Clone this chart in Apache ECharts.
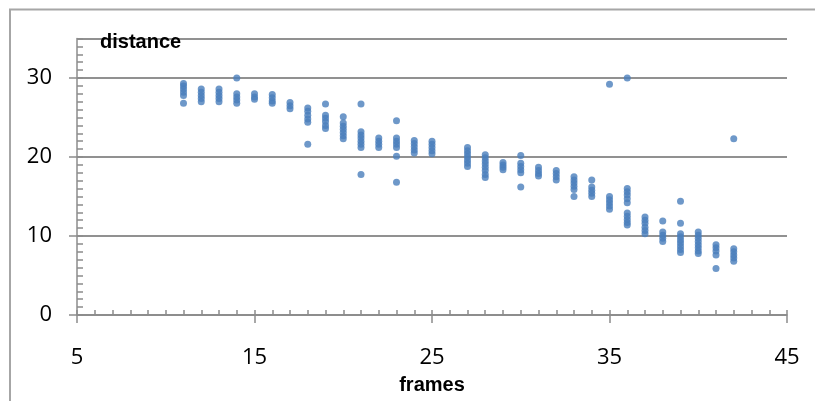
<!DOCTYPE html>
<html>
<head>
<meta charset="utf-8">
<script src="https://cdn.jsdelivr.net/npm/echarts@6/dist/echarts.min.js"></script>
<style>html,body{margin:0;padding:0;background:#fff}#c{width:815px;height:401px}</style>
</head>
<body>
<div id="c"></div>
<script>
const frames = [11,12,13,14,15,16,17,18,19,20,21,22,23,24,25,27,28,29,30,31,32,33,34,35,36,37,38,39,40,41,42];
const distances = [
  [29.3, 29.0, 28.6, 28.2, 27.8, 26.8],
  [28.6, 28.2, 27.8, 27.4, 27.0],
  [28.6, 28.2, 27.8, 27.4, 27.0],
  [30.0, 28.0, 27.6, 27.2, 26.8],
  [28.0, 27.6, 27.3],
  [27.9, 27.5, 27.1, 26.8],
  [26.9, 26.5, 26.1],
  [26.2, 25.8, 25.3, 24.8, 24.4, 21.6],
  [26.7, 25.3, 24.9, 24.5, 24.0, 23.6],
  [25.1, 24.3, 23.9, 23.5, 23.1, 22.7, 22.3],
  [26.7, 23.2, 22.8, 22.4, 22.0, 21.6, 21.2, 17.8],
  [22.4, 22.0, 21.6, 21.2],
  [24.6, 22.4, 22.0, 21.6, 21.2, 20.1, 16.8],
  [22.1, 21.7, 21.3, 20.9, 20.5],
  [22.0, 21.6, 21.2, 20.8, 20.4],
  [21.2, 20.8, 20.4, 20.0, 19.6, 19.2, 18.8],
  [20.3, 19.9, 19.5, 19.1, 18.7, 18.3, 17.8, 17.4],
  [19.3, 19.0, 18.7, 18.4],
  [20.2, 19.2, 18.8, 18.4, 18.0, 16.2],
  [18.7, 18.3, 17.9, 17.6],
  [18.3, 17.9, 17.5, 17.1],
  [17.5, 17.1, 16.7, 16.3, 15.9, 15.0],
  [17.1, 16.2, 15.8, 15.4, 15.0],
  [29.2, 15.0, 14.6, 14.2, 13.8, 13.4],
  [30.0, 16.0, 15.6, 15.2, 14.7, 14.2, 12.9, 12.5, 12.1, 11.7, 11.4],
  [12.4, 12.0, 11.6, 11.1, 10.7, 10.3],
  [11.9, 10.5, 10.1, 9.7, 9.3],
  [14.4, 11.6, 10.3, 9.9, 9.5, 9.1, 8.7, 8.3, 7.9],
  [10.5, 10.1, 9.7, 9.3, 8.9, 8.5, 8.1, 7.8],
  [8.9, 8.5, 8.1, 7.6, 5.9],
  [22.3, 8.4, 8.0, 7.6, 7.2, 6.8]
];
const xTitle = 'frames';
const yTitle = 'distance';

const points = [];
frames.forEach((f, i) => distances[i].forEach(d => points.push([f, d])));

const axisGray = '#8C8C8C';
const labelFont = { fontFamily: 'Open Sans', fontSize: 22, color: '#000' };

const chart = echarts.init(document.getElementById('c'), null, { renderer: 'canvas' });
chart.setOption({
  animation: false,
  backgroundColor: '#fff',
  title: {
    text: yTitle, left: 100, top: 32, padding: 0,
    textStyle: { fontFamily: 'Liberation Sans', fontWeight: 'bold', fontSize: 20, color: '#000' }
  },
  graphic: [{
    type: 'rect', shape: { x: 10, y: 9.5, width: 900, height: 500 },
    style: { fill: 'none', stroke: '#A6A6A6', lineWidth: 2 }, silent: true
  }],
  grid: { left: 77, right: 28, top: 38.5, bottom: 86, outerBoundsMode: 'none', containLabel: false },
  xAxis: [{
    type: 'value', min: 5, max: 45, interval: 10, position: 'bottom',
    name: xTitle, nameLocation: 'middle', nameGap: 60,
    nameTextStyle: { fontFamily: 'Liberation Sans', fontWeight: 'bold', fontSize: 20, color: '#000' },
    axisLine: { show: true, onZero: false, lineStyle: { color: axisGray, width: 1.5 } },
    axisTick: { show: true, length: 8, lineStyle: { color: axisGray, width: 1.5 } },
    axisLabel: Object.assign({ margin: 32 }, labelFont),
    splitLine: { show: false }
  }, {
    type: 'value', min: 5, max: 45, interval: 1, position: 'bottom',
    axisLine: { show: false },
    axisTick: { show: true, inside: true, length: 5, lineStyle: { color: axisGray, width: 1.5 } },
    axisLabel: { show: false },
    splitLine: { show: false }
  }],
  yAxis: [{
    type: 'value', min: 0, max: 35, interval: 10, position: 'left',
    axisLine: { show: true, onZero: false, lineStyle: { color: axisGray, width: 1.5 } },
    axisTick: { show: true, length: 8, lineStyle: { color: axisGray, width: 1.5 } },
    axisLabel: Object.assign({ margin: 25, showMaxLabel: false }, labelFont),
    splitLine: { show: true, lineStyle: { color: '#919191', width: 1.8 } }
  }, {
    type: 'value', min: 0, max: 35, interval: 1, position: 'left',
    axisLine: { show: false },
    axisTick: { show: true, inside: true, length: 6, lineStyle: { color: axisGray, width: 1.5 } },
    axisLabel: { show: false },
    splitLine: { show: false }
  }],
  series: [{
    type: 'scatter', xAxisIndex: 0, yAxisIndex: 0,
    symbol: 'circle', symbolSize: 7,
    itemStyle: { color: '#4A7EBB' },
    data: points
  }]
});
</script>
</body>
</html>
